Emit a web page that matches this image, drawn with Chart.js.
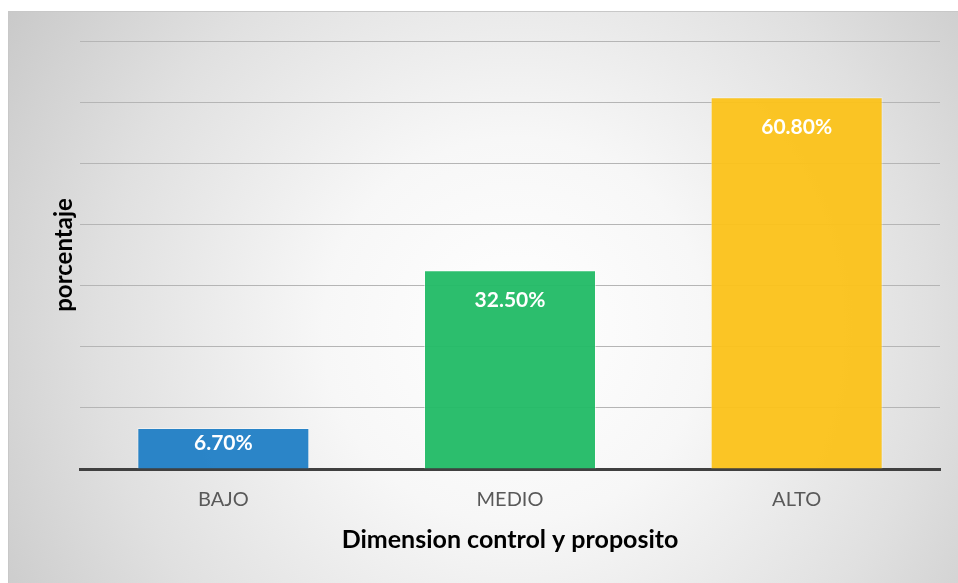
<!DOCTYPE html>
<html>
<head>
<meta charset="utf-8">
<script src="https://cdn.jsdelivr.net/npm/chart.js@4/dist/chart.umd.min.js"></script>
<style>
  html, body { margin: 0; padding: 0; background: #ffffff; }
  #wrap { position: relative; width: 958px; height: 583px; }
</style>
</head>
<body>
<div id="wrap"><canvas id="chart" width="958" height="583"></canvas></div>
<script>
// Categories and values (percent)
const categories = ['BAJO', 'MEDIO', 'ALTO'];
const percentages = [6.7, 32.5, 60.8];
const barColors = ['rgba(34,128,198,0.96)', 'rgba(35,187,103,0.96)', 'rgba(251,195,28,0.96)'];
const yTicks = [0, 10, 20, 30, 40, 50, 60, 70];
const xTitle = 'Dimension control y proposito';
const yTitle = 'porcentaje';

const FONT = 'Lato, "Open Sans", "Liberation Sans", sans-serif';

// Framed panel with a soft radial shading behind the plot
const panelBackground = {
  id: 'panelBackground',
  beforeDraw(chart) {
    const ctx = chart.ctx;
    const W = chart.width, H = chart.height;
    ctx.save();
    ctx.fillStyle = '#ffffff';
    ctx.fillRect(0, 0, W, H);
    const x0 = 8, y0 = 11;
    const g = ctx.createRadialGradient(515, 330, 0, 515, 330, 640);
    g.addColorStop(0, '#ffffff');
    g.addColorStop(0.3, '#f7f7f7');
    g.addColorStop(0.65, '#e0e0e0');
    g.addColorStop(1, '#c4c4c4');
    ctx.fillStyle = g;
    ctx.fillRect(x0, y0, W - x0, H - y0);
    ctx.strokeStyle = '#c8c8c8';
    ctx.lineWidth = 1;
    ctx.strokeRect(x0 + 0.5, y0 + 0.5, W - x0, H - y0);
    ctx.restore();
  }
};

// Value labels placed inside the top end of each bar
const insideEndLabels = {
  id: 'insideEndLabels',
  afterDatasetsDraw(chart) {
    const ctx = chart.ctx;
    const meta = chart.getDatasetMeta(0);
    const data = chart.data.datasets[0].data;
    ctx.save();
    ctx.fillStyle = '#ffffff';
    ctx.font = 'bold 21px ' + FONT;
    ctx.textAlign = 'center';
    ctx.textBaseline = 'middle';
    meta.data.forEach((bar, i) => {
      const h = bar.base - bar.y;
      const off = Math.min(30, h / 2 - 5);
      ctx.fillText(data[i].toFixed(2) + '%', bar.x, bar.y + off);
    });
    ctx.restore();
  }
};

new Chart(document.getElementById('chart'), {
  type: 'bar',
  data: {
    labels: categories,
    datasets: [{
      data: percentages,
      backgroundColor: barColors,
      borderColor: 'rgba(255,255,255,0.45)',
      borderWidth: 1,
      barPercentage: 0.6,
      categoryPercentage: 1.0
    }]
  },
  options: {
    responsive: false,
    animation: false,
    layout: { padding: { left: 49.6, right: 18, top: 41, bottom: 28 } },
    plugins: {
      legend: { display: false },
      tooltip: { enabled: false }
    },
    scales: {
      x: {
        grid: { display: false, drawTicks: false },
        border: { display: true, color: '#404040', width: 3 },
        ticks: { color: '#595959', font: { family: FONT, size: 20 }, padding: 19 },
        title: {
          display: true, text: xTitle, color: '#000000',
          font: { family: FONT, size: 25, weight: 'bold', lineHeight: 1.2 },
          padding: { top: -6, bottom: 0 }
        }
      },
      y: {
        min: 0, max: 70,
        afterBuildTicks(axis) { axis.ticks = yTicks.map(v => ({ value: v })); },
        grid: { color: '#b5b5b5', lineWidth: 1, drawTicks: false },
        border: { display: false },
        ticks: { display: false },
        title: {
          display: true, text: yTitle, color: '#000000',
          font: { family: FONT, size: 24, weight: 'bold', lineHeight: 1.2 },
          padding: { top: 0, bottom: 1.6 }
        }
      }
    }
  },
  plugins: [panelBackground, insideEndLabels]
});
</script>
</body>
</html>
